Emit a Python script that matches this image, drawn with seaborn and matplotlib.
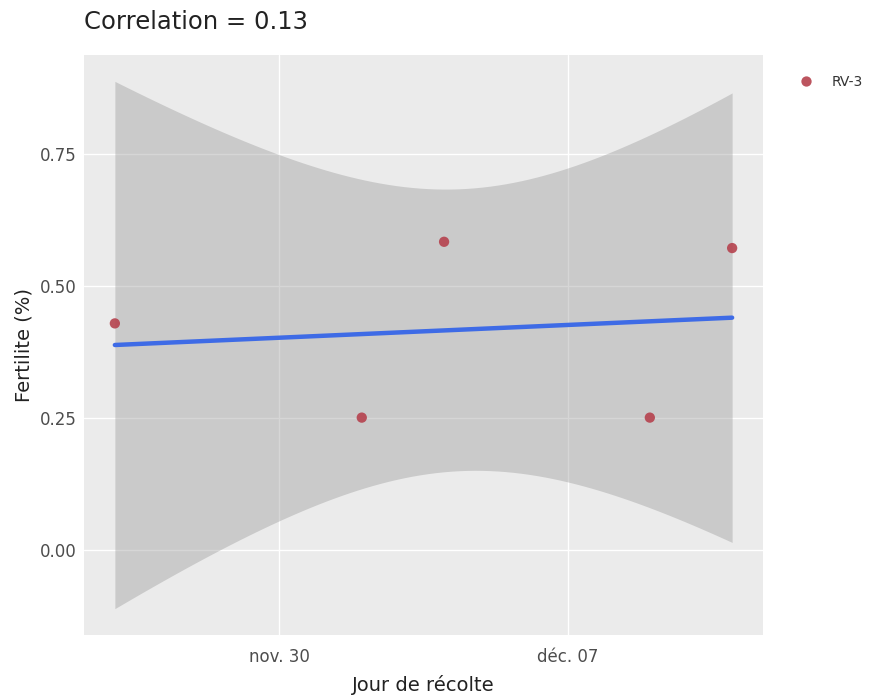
import numpy as np
import pandas as pd
import matplotlib
matplotlib.use("Agg")
import matplotlib.pyplot as plt
import matplotlib.dates as mdates
import seaborn as sns

# ---- data ----
dates = ["2020-11-26", "2020-12-02", "2020-12-04", "2020-12-09", "2020-12-11"]
fertilite = [0.4286, 0.25, 0.5833, 0.25, 0.5714]
variete = ["RV-3"] * 5
title_text = "Correlation = 0.13"
xtick_dates = ["2020-11-30", "2020-12-07"]
xtick_labels = ["nov. 30", "déc. 07"]
ytick_values = [0.0, 0.25, 0.50, 0.75]
ytick_labels = ["0.00", "0.25", "0.50", "0.75"]

df = pd.DataFrame({"date": pd.to_datetime(dates), "fert": fertilite, "var": variete})
df["xn"] = mdates.date2num(df["date"])

# ---- linear fit with 95% CI (t-based, like geom_smooth(method='lm')) ----
x = df["xn"].to_numpy()
y = df["fert"].to_numpy()
n = len(x)
slope, intercept = np.polyfit(x, y, 1)
resid = y - (slope * x + intercept)
s = np.sqrt(np.sum(resid ** 2) / (n - 2))
sxx = np.sum((x - x.mean()) ** 2)
t975 = 3.182446  # t quantile, df = 3
xg = np.linspace(x.min(), x.max(), 80)
yg = slope * xg + intercept
se = s * np.sqrt(1 / n + (xg - x.mean()) ** 2 / sxx)
fit = pd.DataFrame({"xn": xg, "fit": yg, "lo": yg - t975 * se, "hi": yg + t975 * se})

# ---- figure ----
sns.set_theme(style="darkgrid")
plt.rcParams["font.family"] = ["DejaVu Sans"]
fig = plt.figure(figsize=(8.79, 6.96), dpi=100)
W, H = 879, 696
ax = fig.add_axes([84 / W, 1 - 635 / H, (763 - 84) / W, (635 - 55) / H])
ax.set_facecolor("#EBEBEB")

ax.fill_between(fit["xn"], fit["lo"], fit["hi"], color="#999999", alpha=0.4, linewidth=0, zorder=2)
sns.lineplot(data=fit, x="xn", y="fit", color="#3E6BE6", linewidth=3.2, ax=ax, zorder=3, legend=False)
sns.scatterplot(data=df, x="xn", y="fert", hue="var", palette=["#B5424E"], s=55,
                edgecolor="none", ax=ax, zorder=4, alpha=0.9)

# limits with 5% expansion like ggplot
xr = x.max() - x.min()
ax.set_xlim(x.min() - 0.05 * xr, x.max() + 0.05 * xr)
ymin, ymax = fit["lo"].min(), fit["hi"].max()
yr = ymax - ymin
ax.set_ylim(ymin - 0.05 * yr, ymax + 0.05 * yr)

ax.set_xticks(mdates.date2num(pd.to_datetime(xtick_dates)))
ax.set_xticklabels(xtick_labels)
ax.set_yticks(ytick_values)
ax.set_yticklabels(ytick_labels)
ax.grid(True, color="white", linewidth=1.0)
ax.set_axisbelow(True)
for sp in ax.spines.values():
    sp.set_visible(False)
ax.tick_params(axis="both", which="major", length=3.5, width=0.8, color="#4D4D4D",
               labelcolor="#4D4D4D", labelsize=12, pad=2)
ax.tick_params(axis="x", pad=6)

ax.set_xlabel("Jour de récolte", fontsize=14, color="#222222", labelpad=6)
ax.set_ylabel("Fertilite (%)", fontsize=14, color="#222222", labelpad=4)

fig.text(84 / W, 1 - 22 / H, title_text, fontsize=17.5, color="#222222", ha="left", va="center")

leg = ax.legend(loc="upper left", bbox_to_anchor=(780 / W, 1 - 62 / H), bbox_transform=fig.transFigure,
                frameon=False, fontsize=10, handletextpad=0.8, markerscale=1.0)
for txt in leg.get_texts():
    txt.set_color("#333333")

fig.savefig("out.png", dpi=100)
